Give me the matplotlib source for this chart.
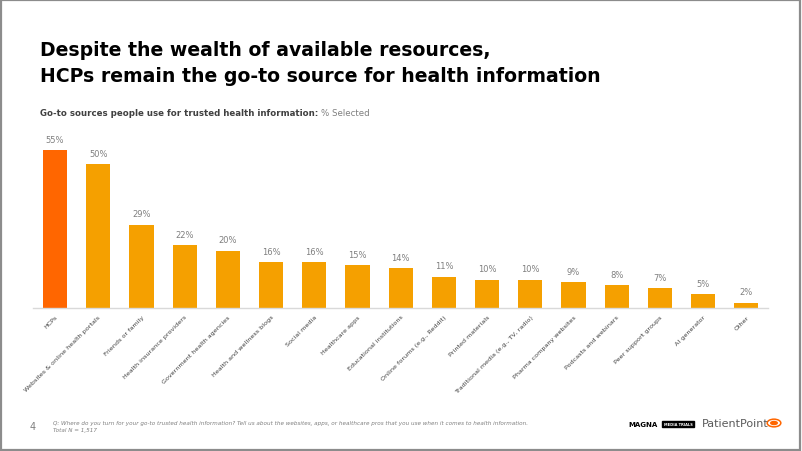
import matplotlib.pyplot as plt
import matplotlib.patches as mpatches
from matplotlib import rcParams

rcParams['font.family'] = ['DejaVu Sans']

categories = [
    'HCPs', 'Websites & online health portals', 'Friends or family',
    'Health insurance providers', 'Government health agencies',
    'Health and wellness blogs', 'Social media', 'Healthcare apps',
    'Educational institutions', 'Online forums (e.g., Reddit)',
    'Printed materials', 'Traditional media (e.g., TV, radio)',
    'Pharma company websites', 'Podcasts and webinars',
    'Peer support groups', 'AI generator', 'Other',
]
values = [55, 50, 29, 22, 20, 16, 16, 15, 14, 11, 10, 10, 9, 8, 7, 5, 2]

highlight = '#FF6600'
amber = '#F5A000'
grey_txt = '#7f7f7f'
dark_txt = '#404040'

W, H = 802, 452
fig = plt.figure(figsize=(W / 100, H / 100), dpi=100, facecolor='white')

# page frame
fig.patches.append(mpatches.Rectangle((0.001, 0.002), 0.997, 0.995, transform=fig.transFigure,
                                      fill=False, edgecolor='#8c8c8c', linewidth=1.6))

# titles
fig.text(40 / W, 1 - 50 / H, 'Despite the wealth of available resources,', fontsize=13.6,
         fontweight='bold', color='black', va='center', ha='left')
fig.text(40 / W, 1 - 77 / H, 'HCPs remain the go-to source for health information', fontsize=13.6,
         fontweight='bold', color='black', va='center', ha='left')
t = fig.text(40 / W, 1 - 113 / H, 'Go-to sources people use for trusted health information: ',
             fontsize=6.2, fontweight='bold', color=dark_txt, va='center', ha='left')
fig.canvas.draw()
bb = t.get_window_extent()
fig.text(bb.x1 / W, 1 - 113 / H, '% Selected', fontsize=6.2, color=grey_txt, va='center', ha='left')

# chart
ax = fig.add_axes([33.4 / W, 142.7 / H, 734.6 / W, 172.8 / H])
xs = range(len(values))
colors = [highlight] + [amber] * (len(values) - 1)
ax.bar(xs, values, width=0.56, color=colors, zorder=2)
for x, v in zip(xs, values):
    ax.text(x, v + 2.2, f'{v}%', ha='center', va='bottom', fontsize=6, color=grey_txt)
ax.set_xlim(-0.5, len(values) - 0.5)
ax.set_ylim(0, 60)
ax.set_yticks([])
ax.set_xticks(list(xs))
ax.set_xticklabels(categories, rotation=45, ha='right', rotation_mode='anchor',
                   fontsize=4.6, color=dark_txt)
ax.tick_params(axis='x', length=0, pad=4)
for s in ['top', 'right', 'left']:
    ax.spines[s].set_visible(False)
ax.spines['bottom'].set_color('#d9d9d9')
ax.spines['bottom'].set_linewidth(1.0)
ax.set_facecolor('none')

# footer
fig.text(30 / W, 1 - 427 / H, '4', fontsize=7, color=grey_txt, va='center', ha='left')
fig.text(53 / W, 1 - 424 / H,
         'Q: Where do you turn for your go-to trusted health information? Tell us about the websites, apps, '
         'or healthcare pros that you use when it comes to health information.',
         fontsize=4.1, style='italic', color=grey_txt, va='center', ha='left')
fig.text(53 / W, 1 - 431 / H, 'Total N = 1,517', fontsize=4.1, style='italic', color=grey_txt,
         va='center', ha='left')

# logos
fig.text(628 / W, 1 - 425 / H, 'MAGNA', fontsize=5.0, fontweight='bold', color='black',
         va='center', ha='left', family='DejaVu Sans Condensed')
fig.text(678 / W, 1 - 425 / H, 'MEDIA TRIALS', fontsize=2.6, fontweight='bold', color='white',
         va='center', ha='center', family='DejaVu Sans Condensed',
         bbox=dict(boxstyle='square,pad=0.35', facecolor='black', edgecolor='black'))
fig.text(702 / W, 1 - 424 / H, 'PatientPoint', fontsize=8, color='#5a5a5a', va='center', ha='left')
fig.patches.append(mpatches.Circle((774 / W, 1 - 424 / H), 0.0085, transform=fig.transFigure,
                                   facecolor='white', edgecolor='#FF6600', linewidth=1.1))
fig.patches.append(mpatches.Circle((774 / W, 1 - 424 / H), 0.005, transform=fig.transFigure,
                                   facecolor='#FF6600', edgecolor='none'))

fig.savefig('out.png', dpi=100, facecolor='white')
